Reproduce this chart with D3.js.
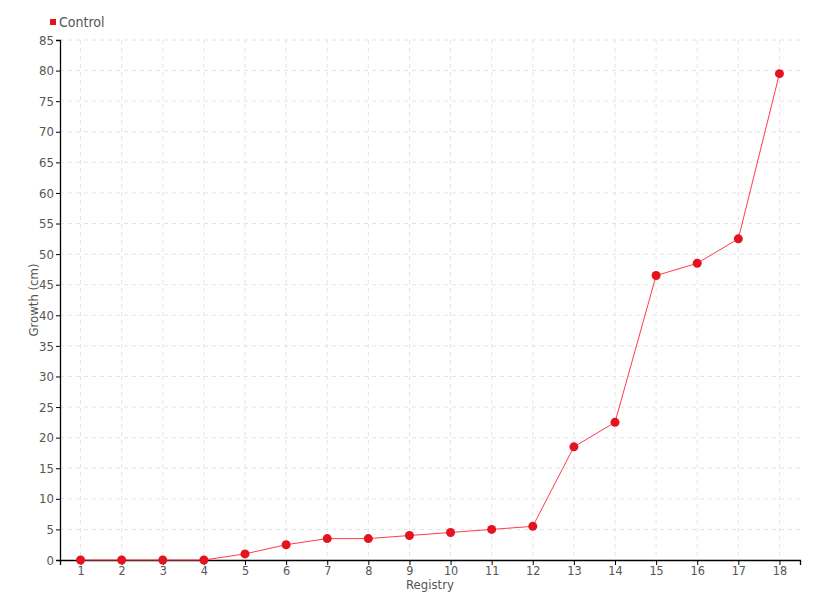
<!DOCTYPE html>
<html>
<head>
<meta charset="utf-8">
<script src="https://cdn.jsdelivr.net/npm/d3@7"></script>
<style>
  body { margin: 0; background: #fff; }
  text { font-family: "DejaVu Sans Condensed", "DejaVu Sans", sans-serif; fill: #555; }
</style>
</head>
<body>
<div id="chart"></div>
<script>
// data
const registry = ["1","2","3","4","5","6","7","8","9","10","11","12","13","14","15","16","17","18"];
const growth = [0, 0, 0, 0, 1, 2.5, 3.5, 3.5, 4, 4.5, 5, 5.5, 18.5, 22.5, 46.5, 48.5, 52.5, 79.5];
const yTicks = d3.range(0, 86, 5);
const seriesName = "Control";

var margin = { top: 40, right: 20, bottom: 40, left: 60 },
    width = 820 - margin.left - margin.right,
    height = 600 - margin.top - margin.bottom;

const svg = d3.select("#chart").append("svg")
    .attr("width", 820)
    .attr("height", 600);

const g = svg.append("g")
    .attr("transform", `translate(${margin.left},${margin.top})`);

const x = d3.scalePoint()
    .domain(registry)
    .range([0, width])
    .padding(0.5);

const y = d3.scaleLinear()
    .domain([0, 85])
    .range([height, 0]);

// grid
g.append("g").selectAll("line.h")
    .data(yTicks.slice(1))
    .enter().append("line")
    .attr("x1", 0).attr("x2", width)
    .attr("y1", d => y(d)).attr("y2", d => y(d))
    .style("stroke", "#e4e4e4")
    .style("stroke-dasharray", "4,4");

g.append("g").selectAll("line.v")
    .data(registry)
    .enter().append("line")
    .attr("x1", d => x(d)).attr("x2", d => x(d))
    .attr("y1", 0).attr("y2", height)
    .style("stroke", "#e4e4e4")
    .style("stroke-dasharray", "4,4");

// axes
const xAxis = g.append("g")
    .attr("transform", `translate(0,${height})`)
    .call(d3.axisBottom(x).tickSize(5).tickPadding(1));

const yAxis = g.append("g")
    .call(d3.axisLeft(y).tickValues(yTicks).tickSize(4).tickPadding(2));

[xAxis, yAxis].forEach(a => {
  a.select(".domain").style("stroke", "#000").style("stroke-width", 1.3);
  a.selectAll(".tick line").style("stroke", "#000");
  a.selectAll("text").style("font-size", "13px").style("fill", "#555")
    .style("font-family", "'DejaVu Sans Condensed', sans-serif");
});
xAxis.selectAll("text").style("font-size", "12.5px");

// line
const line = d3.line()
    .x((d, i) => x(registry[i]))
    .y(d => y(d));

g.append("path")
    .datum(growth)
    .attr("d", line)
    .style("fill", "none")
    .style("stroke", "#ff3b4b")
    .style("stroke-width", 1);

g.selectAll("circle")
    .data(growth)
    .enter().append("circle")
    .attr("cx", (d, i) => x(registry[i]))
    .attr("cy", d => y(d))
    .attr("r", 4.5)
    .style("fill", "#e3141f");

// axis titles
svg.append("text")
    .attr("x", margin.left + width / 2)
    .attr("y", 589)
    .attr("text-anchor", "middle")
    .style("font-size", "13px")
    .text("Registry");

svg.append("text")
    .attr("transform", `translate(38,${margin.top + height / 2}) rotate(-90)`)
    .attr("text-anchor", "middle")
    .style("font-size", "13px")
    .text("Growth (cm)");

// legend
svg.append("rect")
    .attr("x", 50).attr("y", 19)
    .attr("width", 6).attr("height", 6)
    .style("fill", "#e3141f");

svg.append("text")
    .attr("x", 59).attr("y", 27)
    .style("font-size", "14px")
    .text(seriesName);
</script>
</body>
</html>
